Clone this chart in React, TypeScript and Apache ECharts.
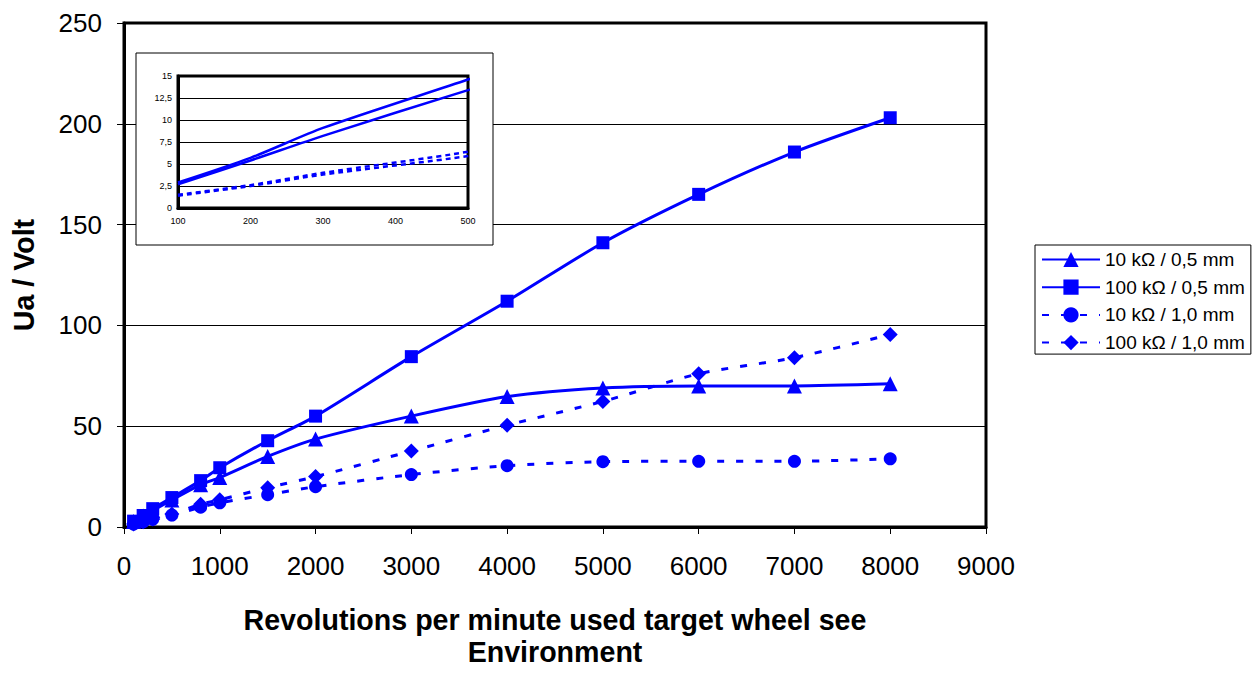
import React, { useEffect, useRef } from "react";
import * as echarts from "echarts";

const rpm = [100, 200, 300, 500, 800, 1000, 1500, 2000, 3000, 4000, 5000, 6000, 7000, 8000];
const tri10k05 = [2.7, 5.4, 8.2, 13.4, 21, 24.5, 35, 43.6, 55, 64.7, 69, 70, 70, 71];
const sq100k05 = [2.9, 5.7, 9.1, 14.6, 23, 29.4, 42.8, 55, 84.5, 112, 141, 165, 186, 203];
const circ10k10 = [1.4, 2.5, 3.8, 5.9, 9.8, 12, 16, 20, 26, 30.4, 32.4, 32.6, 32.6, 33.8];
const dia100k10 = [1.5, 2.6, 4.0, 6.4, 11.3, 13.5, 19.5, 25, 37.7, 50.5, 62.3, 76, 84, 95.5];

const names = ["10 kΩ / 0,5 mm", "100 kΩ / 0,5 mm", "10 kΩ / 1,0 mm", "100 kΩ / 1,0 mm"];
const xTitle = "Revolutions per minute used target wheel see\nEnvironment";
const yTitle = "Ua / Volt";

const BLUE = "#0000ff";
const FONT = "'Liberation Sans', Arial, sans-serif";
const DASH = [7, 12];

const pairs = (ys: number[]) => rpm.map((x, i) => [x, ys[i]]);

export default function App() {
  const ref = useRef<HTMLDivElement>(null);
  useEffect(() => {
    document.body.style.margin = "0";
    document.body.style.overflow = "hidden";
    if (!ref.current) return;
    const chart = echarts.init(ref.current, undefined, { renderer: "svg" });
    const defs = [
      { name: names[0], data: tri10k05, symbol: "triangle", size: 15, dashed: false },
      { name: names[1], data: sq100k05, symbol: "rect", size: 13, dashed: false },
      { name: names[2], data: circ10k10, symbol: "circle", size: 13, dashed: true },
      { name: names[3], data: dia100k10, symbol: "diamond", size: 15, dashed: true },
    ];
    const mainSeries = defs.map((d) => ({
      type: "line",
      name: d.name,
      xAxisIndex: 0,
      yAxisIndex: 0,
      data: pairs(d.data),
      smooth: 0.25,
      symbol: d.symbol,
      symbolSize: d.size,
      showAllSymbol: true,
      itemStyle: { color: BLUE },
      lineStyle: { color: BLUE, width: 3, type: d.dashed ? DASH : "solid" },
      z: 2,
    }));
    const insetSeries = defs.map((d) => ({
      type: "line",
      name: "inset " + d.name,
      xAxisIndex: 1,
      yAxisIndex: 1,
      data: pairs(d.data),
      smooth: 0.25,
      showSymbol: false,
      symbol: "none",
      itemStyle: { color: BLUE },
      lineStyle: { color: BLUE, width: 2.5, type: d.dashed ? [5, 4] : "solid" },
      clip: true,
      z: 8,
    }));
    chart.setOption({
      animation: false,
      backgroundColor: "#ffffff",
      textStyle: { fontFamily: FONT },
      grid: [
        { left: 124, width: 862, top: 23, height: 510, show: true, borderColor: "#000", borderWidth: 3, backgroundColor: "transparent", z: 0 },
        { left: 178, top: 76, width: 290, height: 132, show: true, borderColor: "#000", borderWidth: 3, backgroundColor: "#fff", z: 6 },
      ],
      xAxis: [
        {
          type: "value",
          gridIndex: 0,
          min: 0,
          max: 9000,
          interval: 1000,
          axisLine: { show: true, lineStyle: { color: "#000", width: 3 } },
          axisTick: { show: true, inside: false, length: 7, lineStyle: { color: "#000", width: 1 } },
          axisLabel: { color: "#000", fontSize: 26, fontFamily: FONT, margin: 26, formatter: (v: number) => String(v) },
          splitLine: { show: false },
          name: xTitle,
          nameLocation: "middle",
          nameGap: 77,
          nameTextStyle: { color: "#000", fontSize: 28.6, fontWeight: "bold", fontFamily: FONT, lineHeight: 32 },
          z: 0,
        },
        {
          type: "value",
          gridIndex: 1,
          min: 100,
          max: 500,
          interval: 100,
          axisLine: { show: true, lineStyle: { color: "#000", width: 3 } },
          axisTick: { show: false },
          axisLabel: { color: "#000", fontSize: 9, fontFamily: FONT, margin: 8, formatter: (v: number) => String(v) },
          splitLine: { show: false },
          z: 6,
        },
      ],
      yAxis: [
        {
          type: "value",
          gridIndex: 0,
          min: 0,
          max: 250,
          interval: 50,
          axisLine: { show: true, lineStyle: { color: "#000", width: 3 } },
          axisTick: { show: true, inside: false, length: 7, lineStyle: { color: "#000", width: 1 } },
          axisLabel: { color: "#000", fontSize: 26, fontFamily: FONT, margin: 22 },
          splitLine: { show: true, lineStyle: { color: "#000", width: 1 } },
          name: yTitle,
          nameLocation: "middle",
          nameGap: 86,
          nameRotate: 90,
          nameTextStyle: { color: "#000", fontSize: 28.6, fontWeight: "bold", fontFamily: FONT },
          z: 0,
        },
        {
          type: "value",
          gridIndex: 1,
          min: 0,
          max: 15,
          interval: 2.5,
          axisLine: { show: true, lineStyle: { color: "#000", width: 3 } },
          axisTick: { show: false },
          axisLabel: {
            color: "#000",
            fontSize: 9,
            fontFamily: FONT,
            margin: 6,
            formatter: (v: number) => String(v).replace(".", ","),
          },
          splitLine: { show: true, lineStyle: { color: "#000", width: 1 } },
          z: 6,
        },
      ],
      legend: {
        data: names,
        orient: "vertical",
        left: 1035,
        top: 245,
        width: 218,
        itemWidth: 58,
        itemHeight: 19,
        itemGap: 8.7,
        padding: [5, 6, 2, 6],
        borderColor: "#000",
        borderWidth: 1,
        backgroundColor: "#fff",
        textStyle: { color: "#000", fontSize: 19, fontFamily: FONT },
        selectedMode: false,
      },
      graphic: {
        elements: [
          {
            type: "rect",
            z: 5,
            shape: { x: 136, y: 53, width: 357, height: 192 },
            style: { fill: "#fff", stroke: "#000", lineWidth: 1 },
          },
        ],
      },
      series: [...mainSeries, ...insetSeries],
    });
    return () => chart.dispose();
  }, []);
  return <div ref={ref} style={{ position: "fixed", left: 0, top: 0, width: 1260, height: 673 }} />;
}
